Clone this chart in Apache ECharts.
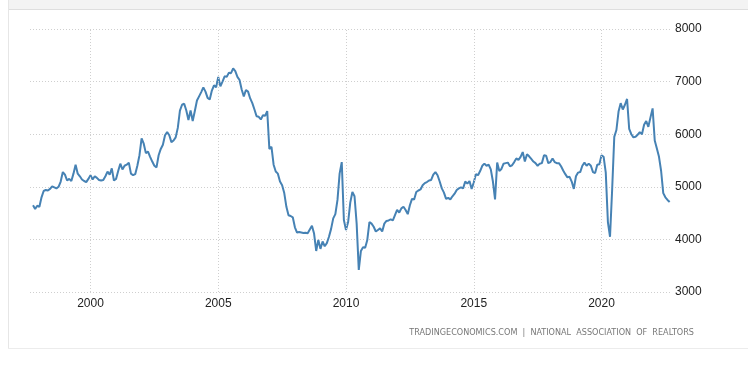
<!DOCTYPE html>
<html>
<head>
<meta charset="utf-8">
<script src="https://cdn.jsdelivr.net/npm/echarts@6/dist/echarts.min.js"></script>
<style>
html,body{margin:0;padding:0;background:#fff;}
#chart{width:748px;height:365px;}
</style>
</head>
<body>
<div id="chart"></div>
<script>
// Monthly existing home sales (thousands, SAAR); series starts Oct 1997
var startYear = 1997, startMonth = 10;
var v1997 = [4650, 4580, 4640];
var v1998 = [4620, 4800, 4920, 4940, 4930, 4960, 5010, 4990, 4970, 5000, 5100, 5280];
var v1999 = [5230, 5120, 5150, 5110, 5250, 5420, 5250, 5200, 5140, 5110, 5090, 5150];
var v2000 = [5220, 5140, 5200, 5170, 5130, 5120, 5130, 5200, 5290, 5230, 5350, 5120];
var v2001 = [5150, 5300, 5440, 5330, 5400, 5420, 5460, 5250, 5220, 5240, 5400, 5600];
var v2002 = [5920, 5820, 5640, 5670, 5570, 5480, 5400, 5370, 5600, 5720, 5800, 5980];
var v2003 = [6040, 5980, 5850, 5880, 5940, 6120, 6450, 6560, 6580, 6450, 6270, 6450];
var v2004 = [6250, 6440, 6640, 6720, 6800, 6890, 6810, 6690, 6660, 6830, 6930, 6890];
var v2005 = [7090, 6910, 7000, 7100, 7090, 7170, 7160, 7250, 7200, 7090, 7030, 6850];
var v2006 = [6720, 6840, 6810, 6680, 6590, 6470, 6340, 6330, 6280, 6360, 6350, 6440];
var v2007 = [5720, 5760, 5420, 5290, 5250, 5100, 5030, 4880, 4620, 4460, 4445, 4420];
var v2008 = [4230, 4130, 4140, 4130, 4120, 4128, 4116, 4190, 4260, 4110, 3780, 3990];
var v2009 = [3820, 3960, 3870, 3930, 4050, 4200, 4400, 4480, 4750, 5250, 5470, 4370];
var v2010 = [4180, 4330, 4700, 4900, 4820, 4300, 3420, 3780, 3850, 3840, 3990, 4330];
var v2011 = [4300, 4240, 4150, 4180, 4210, 4150, 4300, 4350, 4360, 4380, 4360, 4460];
var v2012 = [4560, 4510, 4590, 4620, 4560, 4480, 4650, 4770, 4760, 4900, 4930, 4950];
var v2013 = [5030, 5070, 5090, 5120, 5130, 5230, 5280, 5220, 5100, 4970, 4890, 4770];
var v2014 = [4790, 4760, 4820, 4870, 4940, 4970, 4990, 4970, 5100, 5060, 5110, 4960];
var v2015 = [5080, 5240, 5220, 5300, 5400, 5440, 5400, 5420, 5330, 5100, 4760, 5460];
var v2016 = [5300, 5340, 5440, 5450, 5460, 5390, 5410, 5470, 5540, 5510, 5570, 5660];
var v2017 = [5480, 5620, 5580, 5530, 5480, 5450, 5400, 5440, 5450, 5600, 5590, 5450];
var v2018 = [5470, 5540, 5470, 5450, 5450, 5390, 5310, 5240, 5180, 5190, 5100, 4960];
var v2019 = [5200, 5270, 5280, 5400, 5460, 5400, 5440, 5400, 5280, 5260, 5420, 5430];
var v2020 = [5600, 5570, 5270, 4330, 4050, 4950, 5950, 6080, 6430, 6590, 6470, 6560];
var v2021 = [6670, 6100, 6000, 5940, 5950, 5990, 6040, 6000, 6180, 6250, 6140, 6320];
var v2022 = [6490, 5880, 5730, 5570, 5300, 4880, 4800, 4750, 4710];

var yearTicks = [2000, 2005, 2010, 2015, 2020];
var sourceText = 'TRADINGECONOMICS.COM  |  NATIONAL  ASSOCIATION  OF  REALTORS';

var allValues = [].concat(v1997, v1998, v1999, v2000, v2001, v2002, v2003, v2004, v2005,
  v2006, v2007, v2008, v2009, v2010, v2011, v2012, v2013, v2014, v2015, v2016, v2017,
  v2018, v2019, v2020, v2021, v2022);
var data = allValues.map(function (v, i) {
  return [startYear + (startMonth - 1 + i) / 12, v];
});

var chart = echarts.init(document.getElementById('chart'), null, {renderer: 'canvas'});
var gridColor = '#cfcfcf';
chart.setOption({
  animation: false,
  backgroundColor: '#ffffff',
  textStyle: {fontFamily: 'Liberation Sans, Arial, sans-serif'},
  grid: {left: 30, right: 76, top: 29, bottom: 73, containLabel: false},
  xAxis: {
    type: 'value',
    min: 1997.632,
    max: 2022.759,
    axisLine: {show: false},
    axisTick: {show: false, customValues: yearTicks},
    splitLine: {show: false},
    axisLabel: {
      customValues: yearTicks,
      color: '#222',
      fontSize: 12,
      margin: 6,
      formatter: function (v) { return String(Math.round(v)); }
    }
  },
  yAxis: {
    type: 'value',
    position: 'right',
    min: 3000,
    max: 8000,
    interval: 1000,
    axisLine: {show: false},
    axisTick: {show: false},
    axisLabel: {color: '#222', fontSize: 12, margin: 3, formatter: function (v) { return String(v); }},
    splitLine: {show: true, lineStyle: {color: gridColor, type: [1, 2], width: 1}}
  },
  graphic: [
    {type: 'rect', shape: {x: 8, y: 0, width: 740, height: 9}, style: {fill: '#f3f3f3', stroke: null}, silent: true},
    {type: 'line', shape: {x1: 8, y1: 9.5, x2: 748, y2: 9.5}, style: {stroke: '#dedede', lineWidth: 1}, silent: true},
    {type: 'line', shape: {x1: 8.5, y1: 0, x2: 8.5, y2: 348}, style: {stroke: '#e6e6e6', lineWidth: 1}, silent: true},
    {type: 'line', shape: {x1: 8, y1: 348.5, x2: 748, y2: 348.5}, style: {stroke: '#ececec', lineWidth: 1}, silent: true},
    {type: 'text', right: 54, top: 328, style: {text: sourceText, fill: '#777', font: '9px "DejaVu Sans Condensed", sans-serif'}, silent: true}
  ],
  series: [{
    type: 'line',
    data: data,
    showSymbol: false,
    symbol: 'none',
    lineStyle: {color: '#4682b4', width: 2},
    markLine: {
      silent: true,
      symbol: ['none', 'none'],
      label: {show: false},
      lineStyle: {color: gridColor, type: [1, 2], width: 1},
      data: yearTicks.map(function (y) { return {xAxis: y}; })
    },
    z: 3
  }]
});
</script>
</body>
</html>
